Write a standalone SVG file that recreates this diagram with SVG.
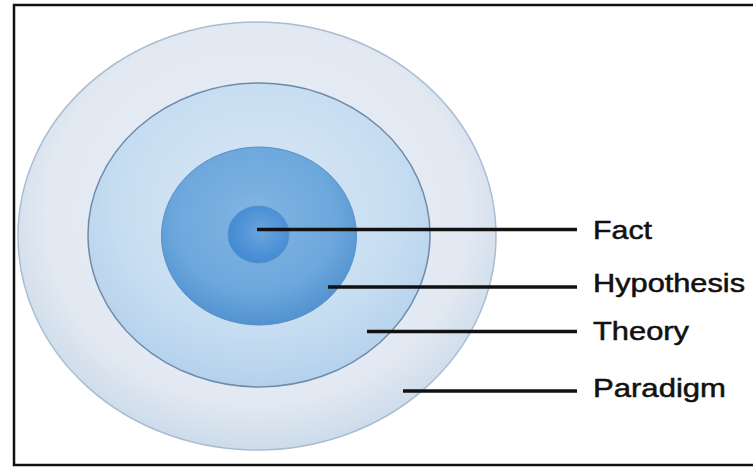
<svg xmlns="http://www.w3.org/2000/svg" width="753" height="467" viewBox="0 0 753 467">
<style>
.lbl{font-family:"Liberation Sans",Arial,sans-serif;font-size:25px;fill:#111;stroke:#111;stroke-width:0.5;}
.conn line{stroke:#111;stroke-width:3.5;stroke-linecap:butt;}
</style>
<defs>
<radialGradient id="g1" cx="0.5" cy="0.45" r="0.55">
<stop offset="0" stop-color="#e8eff7"/>
<stop offset="0.8" stop-color="#e2e9f2"/>
<stop offset="1" stop-color="#cddbea"/>
</radialGradient>
<radialGradient id="g2" cx="0.5" cy="0.4" r="0.6">
<stop offset="0" stop-color="#d9e8f6"/>
<stop offset="0.7" stop-color="#c6ddf1"/>
<stop offset="1" stop-color="#b4d1ec"/>
</radialGradient>
<radialGradient id="g3" cx="0.48" cy="0.4" r="0.6">
<stop offset="0" stop-color="#82b5e3"/>
<stop offset="0.7" stop-color="#6ca7dc"/>
<stop offset="1" stop-color="#5292d1"/>
</radialGradient>
<radialGradient id="g4" cx="0.55" cy="0.45" r="0.6">
<stop offset="0" stop-color="#6aa4de"/>
<stop offset="1" stop-color="#3f88d1"/>
</radialGradient>
</defs>
<rect x="0" y="0" width="753" height="467" fill="#ffffff"/>
<rect x="14" y="5" width="745" height="460" fill="none" stroke="#111" stroke-width="2.5"/>
<g id="paradigm-node">
<ellipse cx="257" cy="236" rx="239" ry="214" fill="url(#g1)" stroke="#a9bdd2" stroke-width="1.5"/>
</g>
<g id="theory-node">
<ellipse cx="259" cy="235" rx="171" ry="152" fill="url(#g2)" stroke="#6f8aa8" stroke-width="1.5"/>
</g>
<g id="hypothesis-node">
<ellipse cx="259" cy="236" rx="97.5" ry="89" fill="url(#g3)" stroke="#5b8fc4" stroke-width="1"/>
</g>
<g id="fact-node">
<ellipse cx="258.5" cy="234.5" rx="30.5" ry="28.5" fill="url(#g4)" stroke="#5a93cf" stroke-width="1"/>
</g>
<g id="connectors" class="conn">
<line x1="257" y1="229.5" x2="577" y2="229.5"/>
<line x1="328" y1="287" x2="577" y2="287"/>
<line x1="367" y1="331.5" x2="577" y2="331.5"/>
<line x1="403" y1="391" x2="577" y2="391"/>
</g>
<g id="labels">
<text class="lbl" x="593" y="239" textLength="59" lengthAdjust="spacingAndGlyphs">Fact</text>
<text class="lbl" x="593" y="292" textLength="152" lengthAdjust="spacingAndGlyphs">Hypothesis</text>
<text class="lbl" x="593" y="339.5" textLength="96" lengthAdjust="spacingAndGlyphs">Theory</text>
<text class="lbl" x="593" y="397" textLength="133" lengthAdjust="spacingAndGlyphs">Paradigm</text>
</g>
</svg>
